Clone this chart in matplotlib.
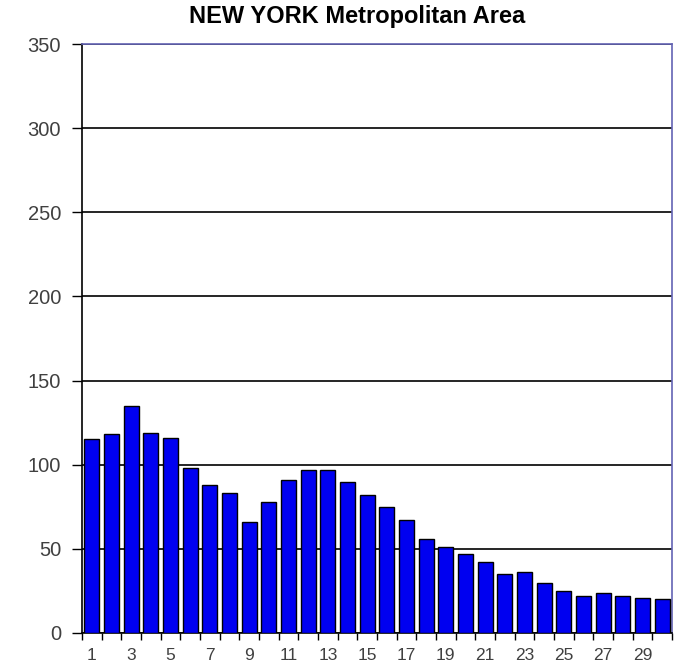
import numpy as np
import matplotlib
matplotlib.use('Agg')
import matplotlib.pyplot as plt
from matplotlib.ticker import FixedLocator

# values
categories = list(range(1, 31))
values = [115, 118, 135, 119, 116, 98, 88, 83, 66, 78,
          91, 97, 97, 90, 82, 75, 67, 56, 51, 47,
          42, 35, 36, 30, 25, 22, 24, 22, 21, 20]
y_ticks = [0, 50, 100, 150, 200, 250, 300, 350]
x_labels = [str(c) for c in categories if c % 2 == 1]
title = 'NEW YORK Metropolitan Area'

plt.rcParams['font.family'] = ['Liberation Sans', 'DejaVu Sans']

fig = plt.figure(figsize=(6.74, 6.67), dpi=100)
ax = fig.add_axes([82 / 674, 34 / 667, 590 / 674, 589 / 667])

ax.bar(categories, values, width=0.76, color='#0000f0', edgecolor='black', lw=1, zorder=3)

ax.set_xlim(0.5, 30.5)
ax.set_ylim(0, 350)
ax.set_yticks(y_ticks)
ax.yaxis.grid(True, color='black', lw=1.2, zorder=1)
ax.tick_params(axis='y', direction='out', length=7, width=1, color='black',
               labelsize=14.5, labelcolor='#404040', pad=8)

# major ticks carry labels (odd categories), minor ticks mark category boundaries
ax.set_xticks([c for c in categories if c % 2 == 1])
ax.set_xticklabels(x_labels)
ax.xaxis.set_minor_locator(FixedLocator(np.arange(0.5, 31, 1)))
ax.tick_params(axis='x', which='major', length=0, labelsize=12.5, labelcolor='#404040', pad=11)
ax.tick_params(axis='x', which='minor', direction='out', length=5, width=1, color='black')

for side in ['left', 'bottom']:
    ax.spines[side].set_color('black')
    ax.spines[side].set_linewidth(1.2)
for side in ['top', 'right']:
    ax.spines[side].set_color('#6464b4')
    ax.spines[side].set_linewidth(1.2)
ax.set_axisbelow(True)

fig.text(357 / 674, 1 - 17 / 667, title, ha='center', va='center',
         fontsize=17, fontweight='bold', color='black')

fig.savefig('out.png', dpi=100)
